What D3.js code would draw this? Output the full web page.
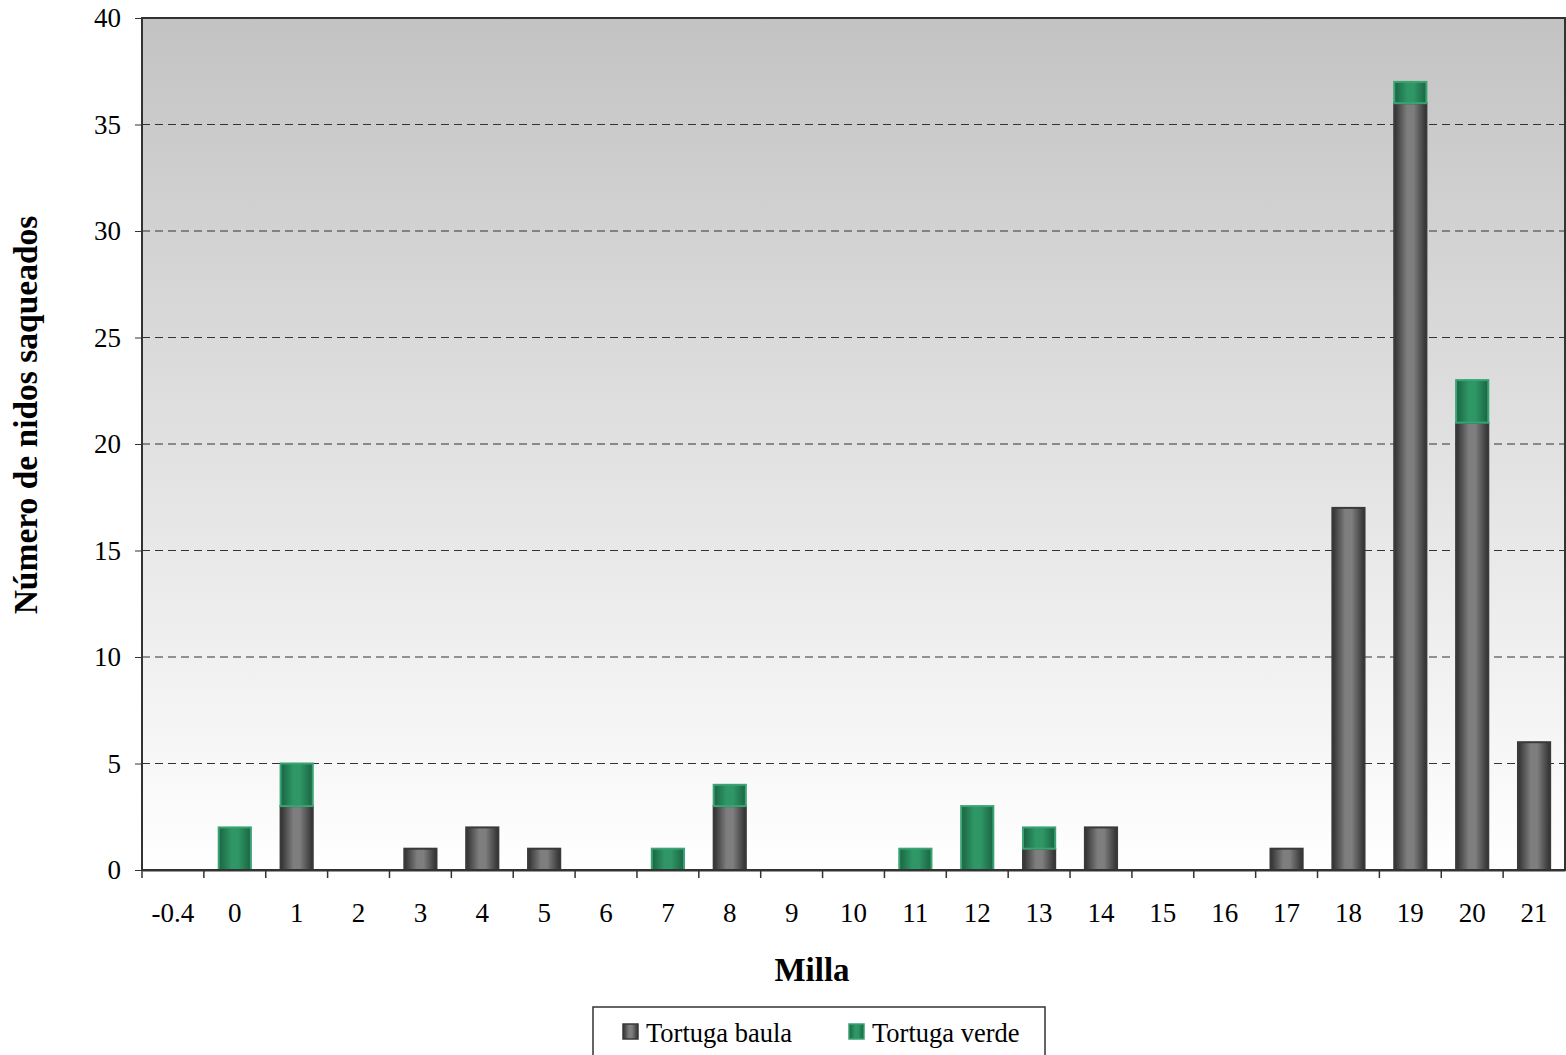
<!DOCTYPE html>
<html><head><meta charset="utf-8">
<script src="https://cdn.jsdelivr.net/npm/d3@7"></script>
<style>body{margin:0;background:#fff;}svg{display:block;}</style>
</head><body>
<svg id="chart" width="1566" height="1055"></svg>
<script>
const categories = ["-0.4","0","1","2","3","4","5","6","7","8","9","10","11","12","13","14","15","16","17","18","19","20","21"];
const baula = [0,0,3,0,1,2,1,0,0,3,0,0,0,0,1,2,0,0,1,17,36,21,6];
const verde = [0,2,2,0,0,0,0,0,1,1,0,0,1,3,1,0,0,0,0,0,1,2,0];
const yTicks = [0,5,10,15,20,25,30,35,40];
const seriesNames = ["Tortuga baula","Tortuga verde"];

const FONT = "'Liberation Serif', 'Times New Roman', serif";
const svg = d3.select("#chart");
const m = {l:142, r:1565, t:18, b:870};
const x = d3.scaleBand().domain(categories).range([m.l, m.r]).paddingInner(0.48).paddingOuter(0.24);
const xb = d3.scaleBand().domain(categories).range([m.l, m.r]);
const y = d3.scaleLinear().domain([0,40]).range([m.b, m.t]);

const defs = svg.append("defs");
const bg = defs.append("linearGradient").attr("id","bg").attr("x1",0).attr("y1",0).attr("x2",0).attr("y2",1);
bg.append("stop").attr("offset","0%").attr("stop-color","#c3c3c3");
bg.append("stop").attr("offset","100%").attr("stop-color","#ffffff");
function hgrad(id, edge, mid){
  const g = defs.append("linearGradient").attr("id",id).attr("x1",0).attr("y1",0).attr("x2",1).attr("y2",0);
  g.append("stop").attr("offset","0%").attr("stop-color",edge);
  g.append("stop").attr("offset","40%").attr("stop-color",mid);
  g.append("stop").attr("offset","60%").attr("stop-color",mid);
  g.append("stop").attr("offset","100%").attr("stop-color",edge);
}
hgrad("gGray","#303030","#7e7e7e");
hgrad("gGreen","#1a6442","#2f9766");

svg.append("rect").attr("x",m.l).attr("y",m.t).attr("width",m.r-m.l).attr("height",m.b-m.t).attr("fill","url(#bg)");

svg.append("g").selectAll("line").data(yTicks.filter(d=>d>0 && d<40)).join("line")
  .attr("x1",m.l).attr("x2",m.r).attr("y1",d=>y(d)).attr("y2",d=>y(d))
  .attr("stroke","#333").attr("stroke-width",1).attr("stroke-dasharray","8,5");

const bars = svg.append("g");
categories.forEach((c,i)=>{
  const bx = x(c), bw = x.bandwidth();
  if (baula[i] > 0) {
    bars.append("rect").attr("x",bx).attr("y",y(baula[i])).attr("width",bw).attr("height",y(0)-y(baula[i]))
      .attr("fill","url(#gGray)").attr("stroke","#3a3a3a").attr("stroke-width",2);
  }
  if (verde[i] > 0) {
    const top = baula[i]+verde[i];
    bars.append("rect").attr("x",bx).attr("y",y(top)).attr("width",bw).attr("height",y(baula[i])-y(top))
      .attr("fill","url(#gGreen)").attr("stroke","#3aa373").attr("stroke-width",2);
  }
});

svg.append("rect").attr("x",m.l).attr("y",m.t).attr("width",m.r-m.l).attr("height",m.b-m.t)
  .attr("fill","none").attr("stroke","#333").attr("stroke-width",2);

const yAxis = d3.axisLeft(y).tickValues(yTicks).tickSize(7).tickPadding(14);
const gy = svg.append("g").attr("transform",`translate(${m.l},0)`).call(yAxis);
gy.select(".domain").remove();
gy.selectAll("line").attr("stroke","#333");
gy.selectAll("text").attr("font-family",FONT).attr("font-size",27).attr("fill","#000");

const xAxis = d3.axisBottom(xb).tickSize(0).tickPadding(33);
const gx = svg.append("g").attr("transform",`translate(0,${m.b})`).call(xAxis);
gx.select(".domain").attr("stroke","#333").attr("stroke-width",2);
gx.selectAll("text").attr("font-family",FONT).attr("font-size",27).attr("fill","#000");
svg.append("g").selectAll("line").data(categories).join("line")
  .attr("x1",d=>xb(d)).attr("x2",d=>xb(d)).attr("y1",m.b).attr("y2",m.b+8)
  .attr("stroke","#333").attr("stroke-width",1.5);

svg.append("text").attr("x",812).attr("y",981).attr("text-anchor","middle")
  .attr("font-family",FONT).attr("font-size",33).attr("font-weight","bold").text("Milla");
svg.append("text").attr("transform","translate(37,415) rotate(-90)").attr("text-anchor","middle")
  .attr("font-family",FONT).attr("font-size",33.5).attr("font-weight","bold").text("Número de nidos saqueados");

const lg = svg.append("g");
lg.append("rect").attr("x",593).attr("y",1007).attr("width",452).attr("height",60).attr("fill","#fff").attr("stroke","#333").attr("stroke-width",1.5);
const items = [{n:seriesNames[0], f:"url(#gGray)", s:"#3a3a3a", x:623},{n:seriesNames[1], f:"url(#gGreen)", s:"#3aa373", x:849}];
items.forEach(it=>{
  lg.append("rect").attr("x",it.x).attr("y",1024).attr("width",15).attr("height",15).attr("fill",it.f).attr("stroke",it.s).attr("stroke-width",1.5);
  lg.append("text").attr("x",it.x+23).attr("y",1042).attr("font-family",FONT).attr("font-size",26.5).text(it.n);
});
</script>
</body></html>
